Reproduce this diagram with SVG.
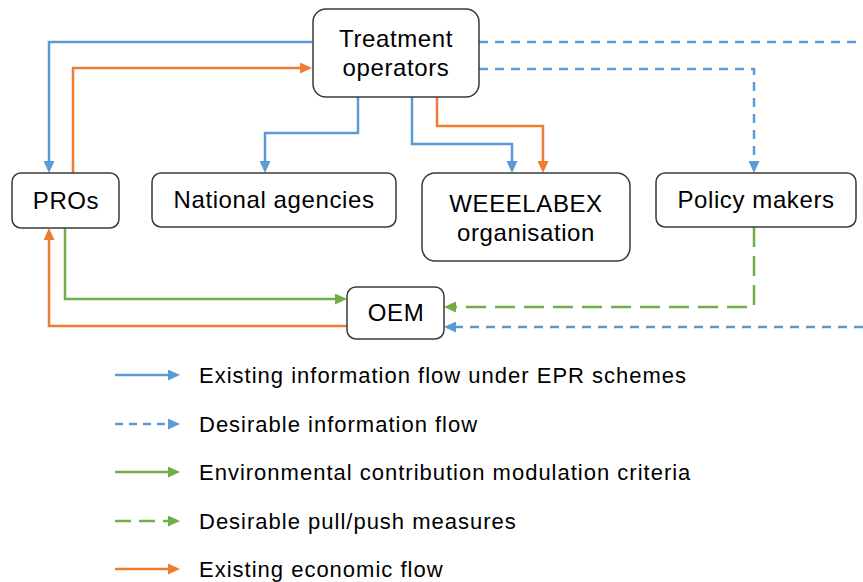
<svg xmlns="http://www.w3.org/2000/svg" width="863" height="582" viewBox="0 0 863 582">
<defs>
<style>
.box{fill:#fff;stroke:#3a3a3a;stroke-width:1.5}
.nt{font-family:"Liberation Sans",Arial,sans-serif;font-size:24px;letter-spacing:0.6px;fill:#000;text-anchor:middle}
.lt{font-family:"Liberation Sans",Arial,sans-serif;font-size:22px;letter-spacing:1px;fill:#000}
.c{fill:none;stroke-width:2.5}
.b{stroke:#5B9BD5;marker-end:url(#ab)}
.o{stroke:#ED7D31;marker-end:url(#ao)}
.g{stroke:#70AD47;marker-end:url(#ag)}
.bd{stroke-dasharray:9 7}
.gd{stroke-dasharray:20 9}
</style>
<marker id="ab" markerUnits="userSpaceOnUse" markerWidth="12" markerHeight="11" refX="4" refY="5.5" orient="auto"><path d="M0,0 L12,5.5 L0,11 z" fill="#5B9BD5"/></marker>
<marker id="ao" markerUnits="userSpaceOnUse" markerWidth="12" markerHeight="11" refX="4" refY="5.5" orient="auto"><path d="M0,0 L12,5.5 L0,11 z" fill="#ED7D31"/></marker>
<marker id="ag" markerUnits="userSpaceOnUse" markerWidth="12" markerHeight="11" refX="4" refY="5.5" orient="auto"><path d="M0,0 L12,5.5 L0,11 z" fill="#70AD47"/></marker>
</defs>
<rect width="863" height="582" fill="#fff"/>
<g id="connectors">
<path class="c b" d="M312,42 H49 V165"/>
<path class="c o" d="M73,173 V68 H304"/>
<path class="c b" d="M358,97 V133 H265 V165"/>
<path class="c b" d="M412,97 V144 H512 V165"/>
<path class="c o" d="M437,97 V126 H543 V165"/>
<path class="c bd" stroke="#5B9BD5" d="M479,42 H863"/>
<path class="c b bd" d="M479,69 H754 V165"/>
<path class="c g" d="M65,228 V299 H339"/>
<path class="c o" d="M347,326 H49 V236"/>
<path class="c g gd" d="M754,227 V307 H452"/>
<path class="c b bd" d="M863,327 H452"/>
</g>
<g id="treatment-operators">
<rect class="box" x="313" y="9" width="166" height="88" rx="13"/>
<text class="nt" x="396" y="47">Treatment</text>
<text class="nt" x="396" y="76">operators</text>
</g>
<g id="pros">
<rect class="box" x="12" y="173" width="107" height="55" rx="9"/>
<text class="nt" x="66" y="209">PROs</text>
</g>
<g id="national-agencies">
<rect class="box" x="152" y="173" width="244" height="54" rx="9"/>
<text class="nt" x="274" y="208">National  agencies</text>
</g>
<g id="weeelabex">
<rect class="box" x="422" y="173" width="208" height="88" rx="13"/>
<text class="nt" x="526" y="212">WEEELABEX</text>
<text class="nt" x="526" y="241">organisation</text>
</g>
<g id="policy-makers">
<rect class="box" x="656" y="173" width="200" height="54" rx="9"/>
<text class="nt" x="756" y="208">Policy makers</text>
</g>
<g id="oem">
<rect class="box" x="347" y="287" width="97" height="52" rx="9"/>
<text class="nt" x="396" y="321">OEM</text>
</g>
<g id="legend">
<path class="c b" d="M115,375 H172"/>
<text class="lt" x="199" y="383">Existing information flow under EPR schemes</text>
<path class="c b" stroke-dasharray="8 6" d="M115,424 H172"/>
<text class="lt" x="199" y="432">Desirable information flow</text>
<path class="c g" d="M115,472 H172"/>
<text class="lt" x="199" y="480">Environmental contribution modulation criteria</text>
<path class="c g" stroke-dasharray="16 8" d="M115,521 H172"/>
<text class="lt" x="199" y="529">Desirable pull/push measures</text>
<path class="c o" d="M115,569 H172"/>
<text class="lt" x="199" y="577">Existing economic flow</text>
</g>
</svg>
